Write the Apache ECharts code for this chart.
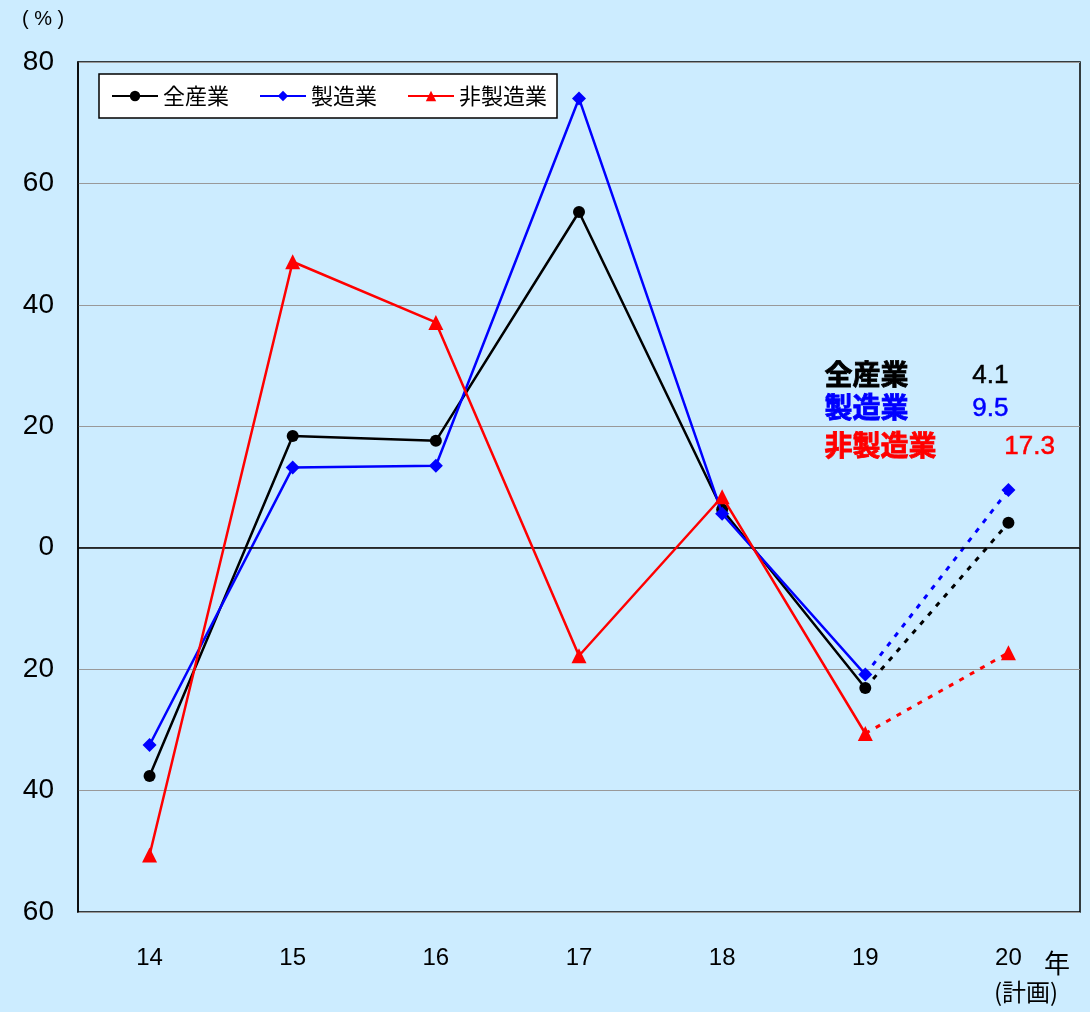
<!DOCTYPE html>
<html><head><meta charset="utf-8">
<script src="https://cdn.jsdelivr.net/npm/echarts@6/dist/echarts.min.js"></script>
<style>html,body{margin:0;padding:0;background:#CCECFF;}#c{width:1090px;height:1012px;}</style>
</head><body><div id="c"></div>
<script>
const categories = ['14','15','16','17','18','19','20'];
const allIndustry = [-37.6, 18.4, 17.6, 55.3, 6.3, -23.1, 4.1];
const manufacturing = [-32.5, 13.2, 13.5, 74.0, 5.6, -20.9, 9.5];
const nonManufacturing = [-50.6, 47.1, 37.1, -17.8, 8.4, -30.6, -17.3];
const seriesNames = ['全産業','製造業','非製造業'];
const colors = ['#000000','#0000FF','#FF0000'];
const symbols = ['circle','diamond','triangle'];
const symbolSizes = [12, 14, 15];
const annoValues = ['4.1','9.5','17.3'];

const FONT = '"Liberation Sans", Arial, "Noto Sans CJK JP", sans-serif';
const CJK = '"Noto Sans CJK JP", "Liberation Sans", sans-serif';
const datasets = [allIndustry, manufacturing, nonManufacturing];
const series = [];
datasets.forEach((d, i) => {
  series.push({
    name: seriesNames[i], type: 'line', data: d.map((v, k) => k < 6 ? v : '-'),
    symbol: symbols[i], symbolSize: symbolSizes[i], showAllSymbol: true,
    lineStyle: {color: colors[i], width: 2.5}, itemStyle: {color: colors[i]},
    z: 3 + i
  });
  series.push({
    name: seriesNames[i] + '_plan', type: 'line',
    data: d.map((v, k) => k < 5 ? '-' : (k === 5 ? {value: v, symbol: 'none'} : v)),
    symbol: symbols[i], symbolSize: symbolSizes[i], showAllSymbol: true,
    lineStyle: {color: colors[i], width: 3, type: [5, 7]}, itemStyle: {color: colors[i]},
    z: 3 + i
  });
});

const chart = echarts.init(document.getElementById('c'));
chart.setOption({
  backgroundColor: '#CCECFF',
  animation: false,
  grid: {left: 78, right: 10, top: 62, bottom: 100, show: true, borderColor: '#000', borderWidth: 1.5, backgroundColor: 'transparent'},
  legend: {
    data: seriesNames, left: 99, top: 74, orient: 'horizontal',
    backgroundColor: '#fff', borderColor: '#000', borderWidth: 1.5, borderRadius: 0,
    padding: [11, 10, 11, 12], itemWidth: 46, itemHeight: 13, itemGap: 30,
    textStyle: {fontFamily: CJK, fontSize: 22, color: '#000'}
  },
  xAxis: {
    type: 'category', data: categories, boundaryGap: true,
    axisLine: {show: false}, axisTick: {show: false},
    axisLabel: {fontFamily: FONT, fontSize: 24, color: '#000', margin: 34}
  },
  yAxis: {
    type: 'value', min: -60, max: 80, interval: 20,
    axisLine: {show: true, lineStyle: {color: '#000', width: 1.5}}, axisTick: {show: false},
    splitLine: {show: true, lineStyle: {color: '#999', width: 1}},
    axisLabel: {fontFamily: FONT, fontSize: 28, color: '#000', margin: 24, padding: [6, 0, 0, 0],
      formatter: v => String(Math.abs(v))}
  },
  series: series.concat([{
    type: 'line', data: [], markLine: {
      silent: true, symbol: 'none', label: {show: false},
      lineStyle: {color: '#000', width: 1.5, type: 'solid'}, data: [{yAxis: 0}]
    }
  }]),
  graphic: [
    {type: 'text', left: 22, top: 9, style: {text: '( % )', font: '20px ' + FONT, fill: '#000'}},
    {type: 'text', left: 1044, top: 950, style: {text: '年', font: '26px ' + CJK, fill: '#000'}},
    {type: 'text', left: 994, top: 980, style: {text: '(計画)', font: '24px ' + CJK, fill: '#000'}},
    {type: 'text', left: 824, top: 360, style: {text: seriesNames[0], font: 'bold 28px ' + CJK, fill: colors[0], stroke: colors[0], lineWidth: 0.8}},
    {type: 'text', left: 972, top: 363, style: {text: annoValues[0], font: '26px ' + FONT, fill: colors[0], stroke: colors[0], lineWidth: 0.5}},
    {type: 'text', left: 824, top: 393, style: {text: seriesNames[1], font: 'bold 28px ' + CJK, fill: colors[1], stroke: colors[1], lineWidth: 0.8}},
    {type: 'text', left: 972, top: 396, style: {text: annoValues[1], font: '26px ' + FONT, fill: colors[1], stroke: colors[1], lineWidth: 0.5}},
    {type: 'text', left: 824, top: 431, style: {text: seriesNames[2], font: 'bold 28px ' + CJK, fill: colors[2], stroke: colors[2], lineWidth: 0.8}},
    {type: 'text', left: 1004, top: 434, style: {text: annoValues[2], font: '26px ' + FONT, fill: colors[2], stroke: colors[2], lineWidth: 0.5}}
  ]
});
</script></body></html>
